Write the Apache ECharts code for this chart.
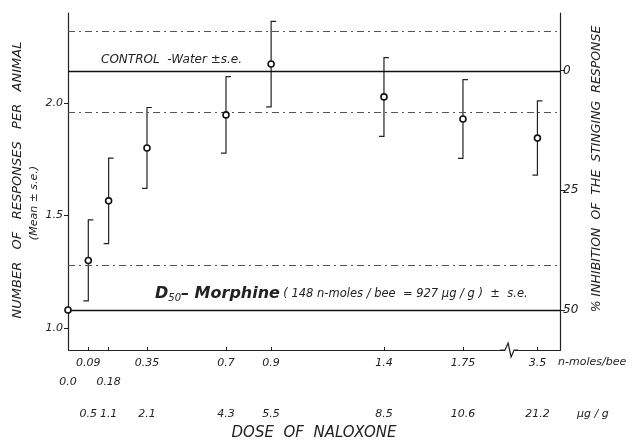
<!DOCTYPE html>
<html>
<head>
<meta charset="utf-8">
<script src="https://cdn.jsdelivr.net/npm/echarts@6/dist/echarts.min.js"></script>
<style>html,body{margin:0;padding:0;background:#fff}#chart{width:643px;height:446px}</style>
</head>
<body>
<div id="chart"></div>
<script>
// dose of naloxone (n-moles/bee) and the same doses in ug/g
var doses = [0, 0.09, 0.18, 0.35, 0.7, 0.9, 1.4, 1.75, 3.5];
var doseLabels = ['0.0', '0.09', '0.18', '0.35', '0.7', '0.9', '1.4', '1.75', '3.5'];
var ugLabels = ['', '0.5', '1.1', '2.1', '4.3', '5.5', '8.5', '10.6', '21.2'];
// doses whose label is printed on the lower row
var lowRowDoses = [0, 0.18];
// number of responses per animal, mean and s.e.
var means = [1.08, 1.30, 1.565, 1.80, 1.947, 2.173, 2.027, 1.929, 1.844];
var errs = [0, 0.18, 0.19, 0.18, 0.17, 0.19, 0.175, 0.175, 0.165];
// reference levels
var controlMean = 2.144, controlSe = 0.18;
var morphineMean = 1.08, morphineSe = 0.20;
var leftTicks = [1.0, 1.5, 2.0];
var rightTicks = [0, 25, 50];

var yMin = 0.902, yMax = 2.4;
// % inhibition: 0 at control, 50 at D50 morphine
var pctScale = 50 / (controlMean - morphineMean);

var font = 'DejaVu Sans';
var ink = '#222';

function labelOf(list, v) {
	for (var i = 0; i < doses.length; i++) {
		if (Math.abs(doses[i] - v) < 1e-6) return list[i];
	}
	return '';
}

var chart = echarts.init(document.getElementById('chart'));
var dashed = { type: [7, 4, 2, 4], color: '#555', width: 1 };
var solid = { type: 'solid', color: '#111', width: 1.3 };
var xBreaks = [{ start: 1.95, end: 3.37, gap: 0 }];
var labelFont = { fontFamily: font, fontStyle: 'italic', fontSize: 11, color: ink };

// a bare dose axis used only to print one row of labels
function labelAxis(values, list, margin) {
	return {
		type: 'value', min: 0, max: 3.6,
		breaks: xBreaks,
		breakArea: { show: false },
		position: 'bottom',
		axisLine: { show: false, onZero: false },
		axisTick: { show: false },
		splitLine: { show: false },
		axisLabel: Object.assign({
			customValues: values,
			showMinLabel: true,
			hideOverlap: false,
			formatter: function (v) { return labelOf(list, v); },
			margin: margin
		}, labelFont)
	};
}

var ugAxis = labelAxis(doses.slice(1), ugLabels, 59);
ugAxis.name = 'DOSE  OF  NALOXONE';
ugAxis.nameLocation = 'middle';
ugAxis.nameGap = 76;
ugAxis.nameTextStyle = { fontFamily: font, fontStyle: 'italic', fontSize: 15, color: ink };

option = {
	animation: false,
	backgroundColor: '#fff',
	grid: { left: 68, right: 83, top: 13, bottom: 96 },
	xAxis: [
		{
			type: 'value', min: 0, max: 3.6,
			breaks: xBreaks,
			breakArea: { show: false },
			axisLine: { onZero: false, lineStyle: { color: ink, width: 1.2 } },
			splitLine: { show: false },
			axisTick: { inside: true, length: 3, customValues: doses, lineStyle: { color: ink } },
			axisLabel: Object.assign({
				customValues: doses.filter(function (d) { return lowRowDoses.indexOf(d) < 0; }),
				formatter: function (v) { return labelOf(doseLabels, v); },
				margin: 8
			}, labelFont)
		},
		labelAxis(lowRowDoses, doseLabels, 27),
		ugAxis
	],
	yAxis: [
		{
			type: 'value', min: yMin, max: yMax,
			axisLine: { show: true, onZero: false, lineStyle: { color: ink, width: 1.2 } },
			splitLine: { show: false },
			axisTick: { show: true, length: 4, customValues: leftTicks, lineStyle: { color: ink } },
			axisLabel: {
				customValues: leftTicks,
				formatter: function (v) { return v.toFixed(1); },
				fontFamily: font, fontStyle: 'italic', fontSize: 11, color: ink, margin: 5
			}
		},
		{
			type: 'value', position: 'right', inverse: true,
			min: (controlMean - yMax) * pctScale,
			max: (controlMean - yMin) * pctScale,
			axisLine: { show: true, onZero: false, lineStyle: { color: ink, width: 1.2 } },
			splitLine: { show: false },
			axisTick: { show: true, length: 5, customValues: rightTicks, lineStyle: { color: ink } },
			axisLabel: {
				customValues: rightTicks,
				formatter: function (v) { return String(v); },
				fontFamily: font, fontStyle: 'italic', fontSize: 12, color: ink, margin: 3
			}
		}
	],
	series: [
		{
			name: 'se',
			type: 'custom',
			xAxisIndex: 0, yAxisIndex: 0,
			data: doses.map(function (d, i) { return [d, means[i] - errs[i], means[i] + errs[i]]; }),
			encode: { x: 0, y: [1, 2] },
			renderItem: function (params, api) {
				var lo = api.value(1), hi = api.value(2);
				if (hi - lo < 1e-6) return;
				var top = api.coord([api.value(0), hi]);
				var bot = api.coord([api.value(0), lo]);
				return {
					type: 'polyline',
					shape: { points: [[top[0] + 5, top[1]], top, bot, [bot[0] - 5, bot[1]]] },
					style: { stroke: ink, lineWidth: 1.2, fill: null }
				};
			},
			z: 3
		},
		{
			name: 'mean',
			type: 'scatter',
			xAxisIndex: 0, yAxisIndex: 0,
			data: doses.map(function (d, i) { return [d, means[i]]; }),
			symbol: 'circle',
			symbolSize: 6,
			itemStyle: { color: '#fff', borderColor: '#111', borderWidth: 1.6, opacity: 1 },
			z: 5,
			markLine: {
				silent: true,
				symbol: ['none', 'none'],
				label: { show: false },
				data: [
					{ yAxis: controlMean + controlSe, lineStyle: dashed },
					{ yAxis: controlMean, lineStyle: solid },
					{ yAxis: controlMean - controlSe, lineStyle: dashed },
					{ yAxis: morphineMean + morphineSe, lineStyle: dashed },
					{ yAxis: morphineMean, lineStyle: solid }
				]
			}
		}
	],
	graphic: [
		{
			id: 'control', type: 'text', left: 101, top: 54,
			style: { text: 'CONTROL  -Water ±s.e.', font: 'italic 12px "DejaVu Sans"', fill: ink }
		},
		{
			id: 'morphine', type: 'text', left: 155, top: 286,
			style: {
				text: '{d|D}{s|50}{d|– Morphine} {t|( 148 n-moles / bee  = 927 μg / g )  ±  s.e.}',
				rich: {
					d: { fontFamily: font, fontStyle: 'italic', fontWeight: 'bold', fontSize: 16, fill: ink },
					s: { fontFamily: font, fontStyle: 'italic', fontSize: 10, fill: ink, padding: [8, 0, 0, 0] },
					t: { fontFamily: font, fontStyle: 'italic', fontSize: 11.5, fill: ink }
				}
			}
		},
		{
			id: 'yname', type: 'text', x: 18, y: 180, rotation: Math.PI / 2,
			style: { text: 'NUMBER   OF   RESPONSES   PER   ANIMAL', font: 'italic 13px "DejaVu Sans"', fill: ink, align: 'center', verticalAlign: 'middle' }
		},
		{
			id: 'yname2', type: 'text', x: 34, y: 203, rotation: Math.PI / 2,
			style: { text: '(Mean ± s.e.)', font: 'italic 11px "DejaVu Sans"', fill: ink, align: 'center', verticalAlign: 'middle' }
		},
		{
			id: 'rname', type: 'text', x: 597, y: 169, rotation: Math.PI / 2,
			style: { text: '% INHIBITION  OF  THE  STINGING  RESPONSE', font: 'italic 12.5px "DejaVu Sans"', fill: ink, align: 'center', verticalAlign: 'middle' }
		},
		{
			id: 'unit1', type: 'text', left: 558, top: 357,
			style: { text: 'n-moles/bee', font: 'italic 11px "DejaVu Sans"', fill: ink }
		},
		{
			id: 'unit2', type: 'text', left: 577, top: 409,
			style: { text: 'μg / g', font: 'italic 11px "DejaVu Sans"', fill: ink }
		}
	]
};

chart.setOption(option, true);

// little break sign on the dose axis, placed where the break starts
var bx = chart.convertToPixel({ xAxisIndex: 0 }, xBreaks[0].start);
var by = chart.convertToPixel({ yAxisIndex: 0 }, yMin);
chart.setOption({
	graphic: [{
		id: 'brkMask', type: 'rect',
		shape: { x: bx - 3, y: by - 2, width: 9, height: 4 },
		style: { fill: '#fff' },
		z: 9
	}, {
		id: 'brkSign', type: 'polyline',
		shape: { points: [[bx - 8, by], [bx - 3, by], [bx, by - 7], [bx + 3, by + 7], [bx + 6, by], [bx + 10, by]] },
		style: { stroke: ink, lineWidth: 1.2, fill: null },
		z: 10
	}]
});
</script>
</body>
</html>
